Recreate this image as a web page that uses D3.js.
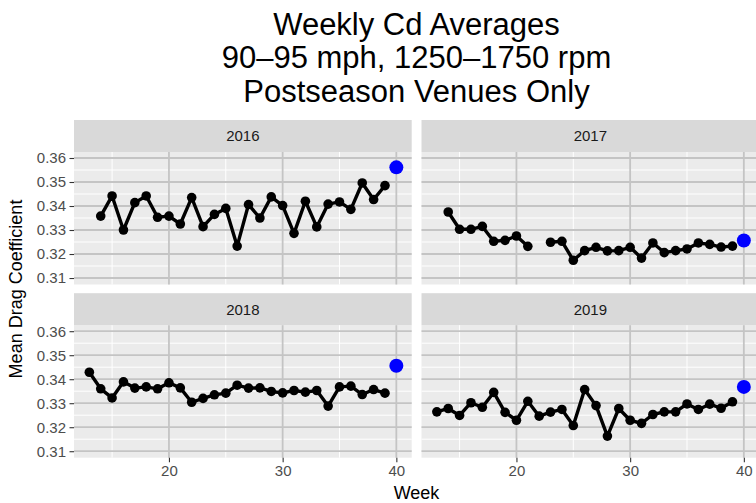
<!DOCTYPE html>
<html>
<head>
<meta charset="utf-8">
<script src="https://cdn.jsdelivr.net/npm/d3@7"></script>
<style>
  body { margin: 0; background: #fff; }
  text { font-family: "Liberation Sans", Arial, sans-serif; }
</style>
</head>
<body>
<div id="chart"></div>
<script>
// data
var years = ["2016", "2017", "2018", "2019"];
var weeks = [13, 14, 15, 16, 17, 18, 19, 20, 21, 22, 23, 24, 25, 26, 27, 28, 29, 30, 31, 32, 33, 34, 35, 36, 37, 38, 39];
var cd2016 = [null, 0.3358, 0.3442, 0.3300, 0.3414, 0.3442, 0.3353, 0.3358, 0.3325, 0.3435, 0.3314, 0.3365, 0.3390, 0.3233,
              0.3406, 0.3350, 0.3438, 0.3402, 0.3286, 0.3420, 0.3313, 0.3408, 0.3417, 0.3386, 0.3496, 0.3427, 0.3485];
var cd2017 = [null, 0.3375, 0.3303, 0.3303, 0.3315, 0.3253, 0.3257, 0.3275, 0.3232, null, 0.3249, 0.3253, 0.3174, 0.3214,
              0.3228, 0.3213, 0.3214, 0.3228, 0.3183, 0.3246, 0.3206, 0.3214, 0.3221, 0.3246, 0.3240, 0.3229, 0.3233];
var cd2018 = [0.3429, 0.3360, 0.3322, 0.3389, 0.3363, 0.3368, 0.3360, 0.3385, 0.3364, 0.3304, 0.3320, 0.3335, 0.3342, 0.3375,
              0.3363, 0.3364, 0.3349, 0.3343, 0.3353, 0.3346, 0.3353, 0.3288, 0.3368, 0.3371, 0.3336, 0.3357, 0.3342];
var cd2019 = [0.3264, 0.3278, 0.3249, 0.3302, 0.3283, 0.3345, 0.3262, 0.3229, 0.3308, 0.3246, 0.3263, 0.3274, 0.3207, 0.3357,
              0.3290, 0.3163, 0.3278, 0.3229, 0.3216, 0.3253, 0.3264, 0.3264, 0.3297, 0.3274, 0.3296, 0.3279, 0.3306];
var postWeek = 40;
var postCd = [0.3561, 0.3256, 0.3456, 0.3368];

var xTicks = [20, 30, 40];
var xMinor = [15, 25, 35];
var yTicks = [0.31, 0.32, 0.33, 0.34, 0.35, 0.36];
var yMinor = [0.315, 0.325, 0.335, 0.345, 0.355];

var series = [cd2016, cd2017, cd2018, cd2019];

var width = 756, height = 503;
var panelW = 337.7, panelH = 132.5, stripH = 32;
var colX = [74, 421.5], rowY = [152, 325.2];

var svg = d3.select("#chart")
    .append("svg")
    .attr("width", width)
    .attr("height", height);

var x = d3.scaleLinear().domain([11.65, 41.35]).range([0, panelW]);
var y = d3.scaleLinear().domain([0.3073, 0.3625]).range([panelH, 0]);

var line = d3.line()
    .defined(function (d) { return d.v != null; })
    .x(function (d) { return x(d.w); })
    .y(function (d) { return y(d.v); });

years.forEach(function (yr, i) {
    var col = i % 2, row = Math.floor(i / 2);
    var g = svg.append("g")
        .attr("transform", "translate(" + colX[col] + "," + rowY[row] + ")");

    var pts = weeks.map(function (w, j) { return { w: w, v: series[i][j] }; });

    // panel background
    g.append("rect").attr("width", panelW).attr("height", panelH).attr("fill", "#EBEBEB");

    // strip
    g.append("rect").attr("y", -stripH).attr("width", panelW).attr("height", stripH).attr("fill", "#D9D9D9");
    g.append("text")
        .attr("x", panelW / 2)
        .attr("y", -stripH / 2)
        .attr("dy", "0.36em")
        .attr("text-anchor", "middle")
        .attr("fill", "#1A1A1A")
        .style("font-size", "15px")
        .text(yr);

    // minor grid (white)
    g.selectAll(".ymin").data(yMinor).enter().append("line")
        .attr("x1", 0).attr("x2", panelW)
        .attr("y1", d => y(d)).attr("y2", d => y(d))
        .attr("stroke", "#fff").attr("stroke-width", 1);
    g.selectAll(".xmin").data(xMinor).enter().append("line")
        .attr("y1", 0).attr("y2", panelH)
        .attr("x1", d => x(d)).attr("x2", d => x(d))
        .attr("stroke", "#fff").attr("stroke-width", 1);

    // major grid (grey)
    g.selectAll(".ymaj").data(yTicks).enter().append("line")
        .attr("x1", 0).attr("x2", panelW)
        .attr("y1", d => y(d)).attr("y2", d => y(d))
        .attr("stroke", "#C4C4C4").attr("stroke-width", 1.8);
    g.selectAll(".xmaj").data(xTicks).enter().append("line")
        .attr("y1", 0).attr("y2", panelH)
        .attr("x1", d => x(d)).attr("x2", d => x(d))
        .attr("stroke", "#C4C4C4").attr("stroke-width", 1.8);

    // weekly line + points
    g.append("path")
        .datum(pts)
        .attr("d", line)
        .attr("fill", "none")
        .attr("stroke", "#000")
        .attr("stroke-width", 3.4)
        .attr("stroke-linejoin", "round");

    g.selectAll(".pt").data(pts.filter(d => d.v != null)).enter().append("circle")
        .attr("cx", d => x(d.w))
        .attr("cy", d => y(d.v))
        .attr("r", 4.8)
        .attr("fill", "#000");

    // postseason point
    g.append("circle")
        .attr("cx", x(postWeek))
        .attr("cy", y(postCd[i]))
        .attr("r", 7)
        .attr("fill", "#0000FF");

    // axes
    if (col === 0) {
        var ay = g.append("g").call(d3.axisLeft(y).tickValues(yTicks).tickSize(4.5).tickPadding(3.5).tickFormat(d3.format(".2f")));
        ay.select(".domain").remove();
        ay.selectAll("line").attr("stroke", "#333").attr("stroke-width", 1.1);
        ay.selectAll("text").attr("fill", "#4D4D4D").style("font-size", "15px");
    }
    if (row === 1) {
        var ax = g.append("g").attr("transform", "translate(0," + panelH + ")")
            .call(d3.axisBottom(x).tickValues(xTicks).tickSize(4.5).tickPadding(3.5));
        ax.select(".domain").remove();
        ax.selectAll("line").attr("stroke", "#333").attr("stroke-width", 1.1);
        ax.selectAll("text").attr("fill", "#4D4D4D").style("font-size", "15px");
    }
});

// axis titles
svg.append("text")
    .attr("x", 416.5)
    .attr("y", 499)
    .attr("text-anchor", "middle")
    .style("font-size", "18px")
    .text("Week");

svg.append("text")
    .attr("transform", "translate(22,289) rotate(-90)")
    .attr("text-anchor", "middle")
    .style("font-size", "18px")
    .text("Mean Drag Coefficient");

// title
var titleLines = ["Weekly Cd Averages", "90\u201395 mph, 1250\u20131750 rpm", "Postseason Venues Only"];
svg.append("text")
    .attr("text-anchor", "middle")
    .style("font-size", "31px")
    .selectAll("tspan")
    .data(titleLines)
    .enter()
    .append("tspan")
    .attr("x", 416.5)
    .attr("y", function (d, i) { return 35 + i * 33.3; })
    .text(function (d) { return d; });
</script>
</body>
</html>
